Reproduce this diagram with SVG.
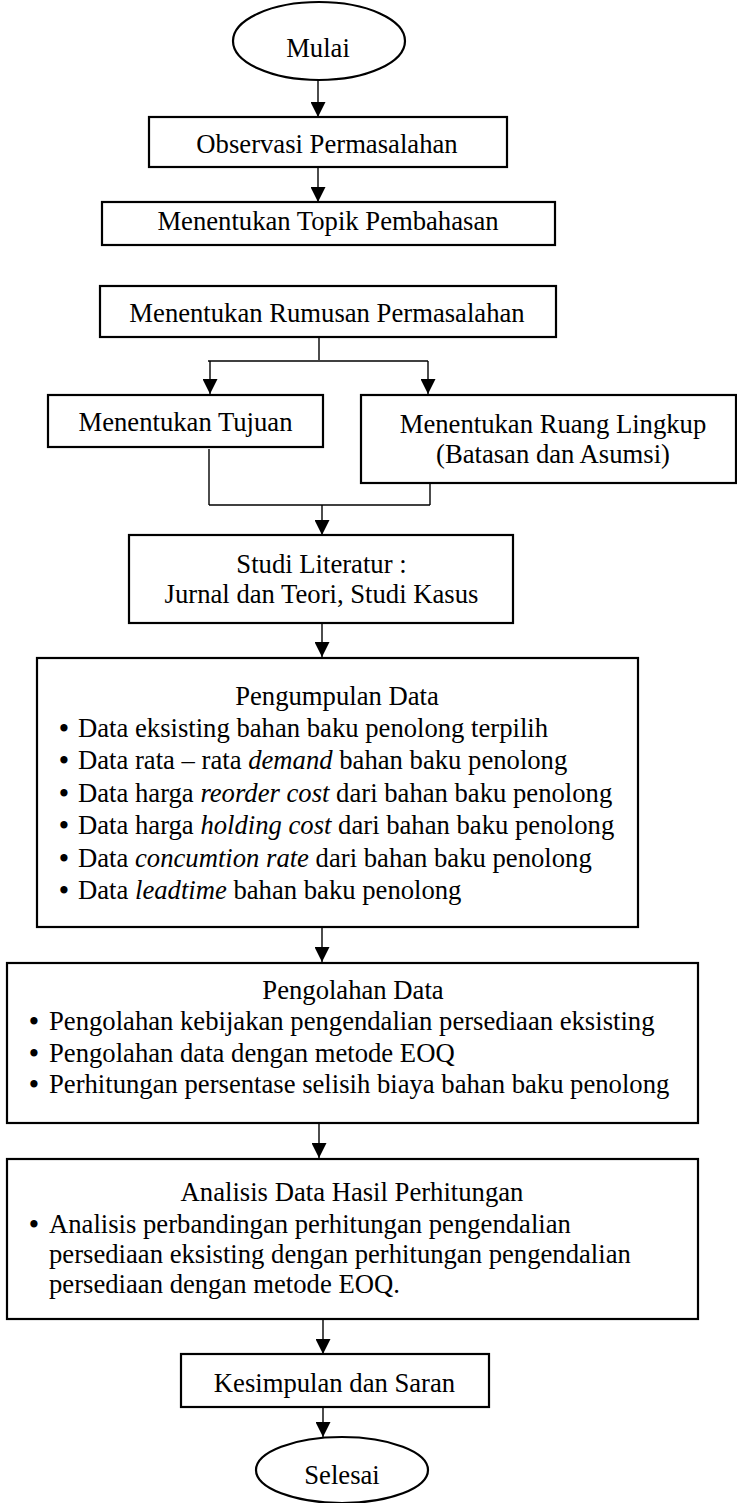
<svg xmlns="http://www.w3.org/2000/svg" width="737" height="1503" viewBox="0 0 737 1503">
<defs>
<marker id="ah" viewBox="0 0 15 15" refX="7.5" refY="15" markerWidth="15" markerHeight="15" markerUnits="userSpaceOnUse" orient="0">
<path d="M0,0 L15,0 L7.5,15 z" fill="#000"/>
</marker>
<style>
.box{fill:#fff;stroke:#000;stroke-width:2.2}
.t{font-family:"Liberation Serif","Times New Roman",serif;font-size:26.67px;fill:#000}
.b{font-weight:bold}
.c{text-anchor:middle}
.i{font-style:italic}
.ln{fill:none;stroke:#000;stroke-width:1.4}
.ar{fill:none;stroke:#000;stroke-width:1.4;marker-end:url(#ah)}
</style>
</defs>
<rect width="737" height="1503" fill="#fff"/>

<g id="connectors">
<line class="ar" x1="318" y1="80" x2="318" y2="117"/>
<line class="ar" x1="318" y1="167" x2="318" y2="202"/>
<line class="ln" x1="319" y1="337" x2="319" y2="360"/>
<line class="ln" x1="208" y1="361" x2="428" y2="361"/>
<line class="ar" x1="210" y1="361" x2="210" y2="394"/>
<line class="ar" x1="428" y1="361" x2="428" y2="394"/>
<line class="ln" x1="209" y1="449" x2="209" y2="505"/>
<line class="ln" x1="430" y1="483" x2="430" y2="505"/>
<line class="ln" x1="209" y1="505" x2="430" y2="505"/>
<line class="ar" x1="322" y1="505" x2="322" y2="535"/>
<line class="ar" x1="322" y1="623" x2="322" y2="657"/>
<line class="ar" x1="322" y1="927" x2="322" y2="962"/>
<line class="ar" x1="319" y1="1123" x2="319" y2="1158"/>
<line class="ar" x1="323" y1="1315" x2="323" y2="1354"/>
<line class="ar" x1="323" y1="1407" x2="323" y2="1437"/>
</g>

<g id="mulai">
<ellipse class="box" cx="319" cy="41" rx="86" ry="39"/>
<text class="t c" x="318" y="57">Mulai</text>
</g>

<g id="observasi">
<rect class="box" x="149" y="117" width="358" height="50"/>
<text class="t c" x="327" y="153">Observasi Permasalahan</text>
</g>

<g id="topik">
<rect class="box" x="102" y="202" width="453" height="43"/>
<text class="t c" x="328" y="230">Menentukan Topik Pembahasan</text>
</g>

<g id="rumusan">
<rect class="box" x="100" y="286" width="456" height="51"/>
<text class="t c" x="327" y="322">Menentukan Rumusan Permasalahan</text>
</g>

<g id="tujuan">
<rect class="box" x="48" y="395" width="275" height="52"/>
<text class="t c" x="185.5" y="431">Menentukan Tujuan</text>
</g>

<g id="ruang">
<rect class="box" x="361" y="395" width="375" height="88"/>
<text class="t c" x="553" y="433">Menentukan Ruang Lingkup</text>
<text class="t c" x="553" y="463">(Batasan dan Asumsi)</text>
</g>

<g id="studi">
<rect class="box" x="129" y="535" width="384" height="88"/>
<text class="t c" x="321.5" y="573">Studi Literatur :</text>
<text class="t c" x="321.5" y="603">Jurnal dan Teori, Studi Kasus</text>
</g>

<g id="pengumpulan">
<rect class="box" x="37" y="658" width="601" height="269"/>
<text class="t c" x="337" y="705">Pengumpulan Data</text>
<text class="t"><tspan class="b" x="59.3" y="737">•</tspan><tspan x="78" y="737">Data eksisting bahan baku penolong terpilih</tspan></text>
<text class="t"><tspan class="b" x="59.3" y="769">•</tspan><tspan x="78" y="769">Data rata – rata <tspan class="i">demand</tspan> bahan baku penolong</tspan></text>
<text class="t"><tspan class="b" x="59.3" y="802">•</tspan><tspan x="78" y="802">Data harga <tspan class="i">reorder cost</tspan> dari bahan baku penolong</tspan></text>
<text class="t"><tspan class="b" x="59.3" y="834">•</tspan><tspan x="78" y="834">Data harga <tspan class="i">holding cost</tspan> dari bahan baku penolong</tspan></text>
<text class="t"><tspan class="b" x="59.3" y="867">•</tspan><tspan x="78" y="867">Data <tspan class="i">concumtion rate</tspan> dari bahan baku penolong</tspan></text>
<text class="t"><tspan class="b" x="59.3" y="899">•</tspan><tspan x="78" y="899">Data <tspan class="i">leadtime</tspan> bahan baku penolong</tspan></text>
</g>

<g id="pengolahan">
<rect class="box" x="7" y="963" width="691" height="160"/>
<text class="t c" x="353" y="999">Pengolahan Data</text>
<text class="t"><tspan class="b" x="29.3" y="1030">•</tspan><tspan x="49" y="1030">Pengolahan kebijakan pengendalian persediaan eksisting</tspan></text>
<text class="t"><tspan class="b" x="29.3" y="1062">•</tspan><tspan x="49" y="1062">Pengolahan data dengan metode EOQ</tspan></text>
<text class="t"><tspan class="b" x="29.3" y="1093">•</tspan><tspan x="49" y="1093">Perhitungan persentase selisih biaya bahan baku penolong</tspan></text>
</g>

<g id="analisis">
<rect class="box" x="7" y="1159" width="691" height="160"/>
<text class="t c" x="352" y="1201">Analisis Data Hasil Perhitungan</text>
<text class="t"><tspan class="b" x="29.3" y="1233">•</tspan><tspan x="49" y="1233">Analisis perbandingan perhitungan pengendalian</tspan></text>
<text class="t" x="49" y="1263">persediaan eksisting dengan perhitungan pengendalian</text>
<text class="t" x="49" y="1293">persediaan dengan metode EOQ.</text>
</g>

<g id="kesimpulan">
<rect class="box" x="181" y="1354" width="308" height="53"/>
<text class="t c" x="334.5" y="1392">Kesimpulan dan Saran</text>
</g>

<g id="selesai">
<ellipse class="box" cx="342" cy="1470" rx="86" ry="33"/>
<text class="t c" x="342" y="1484">Selesai</text>
</g>
</svg>
